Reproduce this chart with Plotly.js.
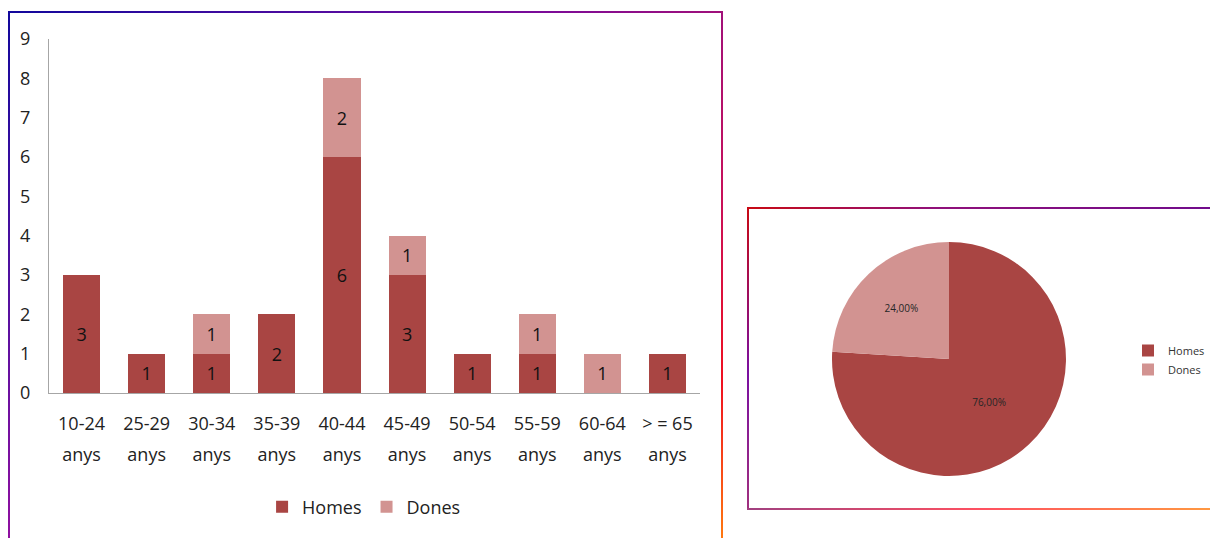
<!DOCTYPE html>
<html>
<head>
<meta charset="utf-8">
<script src="https://cdn.plot.ly/plotly-3.0.1.min.js"></script>
<style>
  html, body { margin: 0; padding: 0; background: #ffffff; width: 1210px; height: 538px; overflow: hidden; position: relative; }
  .plot { position: absolute; }
  .edge { position: absolute; pointer-events: none; z-index: 10; }
</style>
</head>
<body>
<div id="bars" class="plot" style="left:0px; top:0px; width:730px; height:538px;"></div>
<div id="pie" class="plot" style="left:740px; top:200px; width:470px; height:320px;"></div>

<!-- left frame edges -->
<div class="edge" style="left:8px; top:11px; width:715px; height:2px; background:linear-gradient(to right,#12089c,#5a0ca0 50%,#7c0c98 75%,#a0107a);"></div>
<div class="edge" style="left:8px; top:11px; width:2px; height:530px; background:linear-gradient(to bottom,#12089c,#5010a0 50%,#9010a0);"></div>
<div class="edge" style="left:721px; top:11px; width:2px; height:530px; background:linear-gradient(to bottom,#a0107a,#c8105a 35%,#f01020 70%,#ff7a10);"></div>
<!-- right frame edges -->
<div class="edge" style="left:747px; top:207px; width:470px; height:2px; background:linear-gradient(to right,#c80a14,#90107a 40%,#700c8c);"></div>
<div class="edge" style="left:747px; top:207px; width:2px; height:303px; background:linear-gradient(to bottom,#c80a14,#7a10a0 55%,#a0307e);"></div>
<div class="edge" style="left:747px; top:508px; width:470px; height:2px; background:linear-gradient(to right,#a04080,#ff5060 50%,#ff9a40);"></div>

<script>
// ---- data ----
var categories = ["10-24", "25-29", "30-34", "35-39", "40-44", "45-49", "50-54", "55-59", "60-64", "> = 65"];
var secondLine = ["anys", "anys", "anys", "anys", "anys", "anys", "anys", "anys", "anys", "anys"];
var homes = [3, 1, 1, 2, 6, 3, 1, 1, 0, 1];
var dones = [0, 0, 1, 0, 2, 1, 0, 1, 1, 0];
var seriesNames = ["Homes", "Dones"];
var yTicks = [0, 1, 2, 3, 4, 5, 6, 7, 8, 9];

var colHomes = "#a94543";
var colDones = "#d29391";
var fontFam = "'Open Sans', 'Noto Sans', sans-serif";

function labels(arr) { return arr.map(function (v) { return v === 0 ? "" : String(v); }); }
var idx = categories.map(function (c, i) { return i; });

var barCommon = {
  type: "bar",
  textposition: "inside",
  insidetextanchor: "middle",
  textangle: 0,
  constraintext: "none",
  textfont: { family: fontFam, size: 18, color: "#111111" },
  hoverinfo: "skip"
};

var tHomes = Object.assign({}, barCommon, {
  x: idx, y: homes, name: seriesNames[0], text: labels(homes),
  marker: { color: colHomes, line: { width: 0 } }
});
var tDones = Object.assign({}, barCommon, {
  x: idx, y: dones, name: seriesNames[1], text: labels(dones),
  marker: { color: colDones, line: { width: 0 } }
});
// invisible helper so the second-line tick axis is drawn
var tHelper = {
  type: "scatter", mode: "markers", x: idx, y: homes,
  xaxis: "x2", yaxis: "y",
  marker: { opacity: 0, size: 1 }, showlegend: false, hoverinfo: "skip"
};

var barLayout = {
  width: 730, height: 538,
  margin: { l: 49, r: 30, t: 39, b: 145 },
  paper_bgcolor: "rgba(0,0,0,0)",
  plot_bgcolor: "rgba(0,0,0,0)",
  barmode: "stack",
  bargap: 0.43,
  showlegend: true,
  font: { family: fontFam, color: "#222222" },
  xaxis: {
    range: [-0.5, 9.5],
    tickmode: "array", tickvals: idx, ticktext: categories,
    showline: true, linecolor: "#a6a6a6", linewidth: 1,
    showgrid: false, zeroline: false, ticks: "",
    tickfont: { family: fontFam, size: 18, color: "#222222" },
    ticklabelstandoff: 14, fixedrange: true
  },
  xaxis2: {
    overlaying: "x", anchor: "y", side: "bottom",
    range: [-0.5, 9.5],
    tickmode: "array", tickvals: idx, ticktext: secondLine,
    showline: false, showgrid: false, zeroline: false, ticks: "",
    tickfont: { family: fontFam, size: 18, color: "#222222" },
    ticklabelstandoff: 49, fixedrange: true
  },
  yaxis: {
    range: [0, 9],
    tickmode: "array", tickvals: yTicks,
    showline: true, linecolor: "#a6a6a6", linewidth: 1,
    showgrid: false, zeroline: false, ticks: "",
    tickfont: { family: fontFam, size: 18, color: "#222222" },
    ticklabelstandoff: 14, fixedrange: true
  },
  legend: {
    orientation: "h", x: 0.484, xanchor: "center", y: -0.322, yanchor: "middle",
    traceorder: "normal",
    font: { family: fontFam, size: 18, color: "#222222" },
    bgcolor: "rgba(0,0,0,0)"
  }
};

Plotly.newPlot("bars", [tHomes, tDones, tHelper], barLayout, { displayModeBar: false, staticPlot: true });

// ---- pie ----
var totHomes = homes.reduce(function (a, b) { return a + b; }, 0);
var totDones = dones.reduce(function (a, b) { return a + b; }, 0);

var tPie = {
  type: "pie",
  labels: seriesNames,
  values: [totHomes, totDones],
  sort: false,
  direction: "clockwise",
  rotation: 0,
  marker: { colors: [colHomes, colDones], line: { width: 0 } },
  texttemplate: "%{percent:.2%}",
  textposition: "inside",
  insidetextorientation: "horizontal",
  textfont: { family: fontFam, size: 10, color: "#262626" },
  domain: { x: [0.1957, 0.6936], y: [0.1375, 0.86875] },
  hoverinfo: "skip"
};

var pieLayout = {
  width: 470, height: 320,
  margin: { l: 0, r: 0, t: 0, b: 0 },
  separators: ",.",
  paper_bgcolor: "rgba(0,0,0,0)",
  showlegend: true,
  font: { family: fontFam, color: "#333333" },
  legend: {
    x: 1, xanchor: "right", y: 0.5, yanchor: "middle",
    font: { family: fontFam, size: 11, color: "#333333" },
    bgcolor: "rgba(0,0,0,0)", itemwidth: 30, borderwidth: 0
  }
};

Plotly.newPlot("pie", [tPie], pieLayout, { displayModeBar: false, staticPlot: true });
</script>
</body>
</html>
